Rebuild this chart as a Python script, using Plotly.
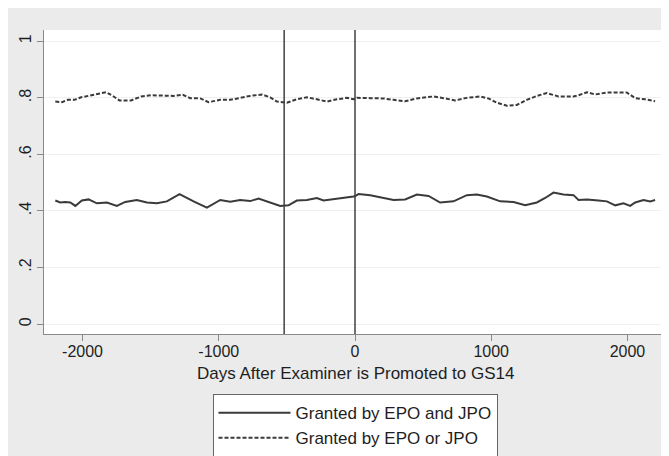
import plotly.graph_objects as go

# ---- data ----
days_and = [-2200, -2164, -2127, -2090, -2053, -2005, -1956, -1895, -1821, -1748,
            -1687, -1601, -1528, -1454, -1381, -1288, -1185, -1087, -989, -916,
            -843, -769, -708, -622, -549, -488, -427, -353, -280, -231,
            -158, -84, -11, 1, 26, 112, 185, 283, 368, 454,
            540, 625, 723, 821, 894, 968, 1066, 1164, 1249, 1335,
            1396, 1457, 1530, 1604, 1641, 1702, 1787, 1849, 1910, 1971,
            2020, 2057, 2118, 2167, 2203]
share_and = [0.437, 0.430, 0.432, 0.430, 0.418, 0.437, 0.441, 0.427, 0.430, 0.418,
             0.432, 0.439, 0.430, 0.427, 0.434, 0.460, 0.434, 0.412, 0.439, 0.433,
             0.439, 0.435, 0.444, 0.430, 0.418, 0.420, 0.437, 0.439, 0.446, 0.437,
             0.441, 0.445, 0.451, 0.453, 0.460, 0.456, 0.448, 0.439, 0.441, 0.458,
             0.453, 0.430, 0.434, 0.456, 0.458, 0.451, 0.434, 0.432, 0.420, 0.430,
             0.446, 0.465, 0.458, 0.456, 0.439, 0.441, 0.437, 0.434, 0.420, 0.427,
             0.418, 0.430, 0.439, 0.434, 0.439]

days_or = [-2200, -2151, -2108, -2059, -2010, -1937, -1863, -1827, -1778, -1729,
           -1644, -1570, -1497, -1399, -1332, -1264, -1210, -1136, -1075, -989,
           -916, -843, -769, -684, -622, -573, -500, -427, -353, -280,
           -206, -133, -60, -11, 14, 112, 209, 283, 368, 454,
           576, 650, 735, 821, 919, 980, 1041, 1115, 1188, 1261,
           1335, 1408, 1494, 1604, 1641, 1702, 1763, 1849, 1934, 1995,
           2057, 2130, 2203]
share_or = [0.787, 0.785, 0.793, 0.793, 0.802, 0.809, 0.814, 0.820, 0.807, 0.791,
            0.791, 0.805, 0.809, 0.808, 0.807, 0.811, 0.799, 0.798, 0.785, 0.793,
            0.793, 0.800, 0.807, 0.812, 0.802, 0.787, 0.783, 0.795, 0.802, 0.795,
            0.787, 0.795, 0.800, 0.795, 0.800, 0.799, 0.798, 0.793, 0.788, 0.798,
            0.805, 0.799, 0.791, 0.800, 0.805, 0.798, 0.783, 0.772, 0.775, 0.793,
            0.807, 0.817, 0.805, 0.805, 0.809, 0.820, 0.812, 0.819, 0.819, 0.819,
            0.799, 0.795, 0.788]

event_lines = [-520, 0]
x_ticks = [-2000, -1000, 0, 1000, 2000]
y_ticks = [0, 0.2, 0.4, 0.6, 0.8, 1]
y_tick_text = ["0", ".2", ".4", ".6", ".8", "1"]
x_title = "Days After Examiner is Promoted to GS14"

FONT = "Liberation Sans, Arial, Helvetica, sans-serif"
LINE_COLOR = "#3a3a3a"
FS = 17
TICK_FS = 16

fig = go.Figure()
fig.add_trace(go.Scatter(x=days_and, y=share_and, mode="lines",
                         name="Granted by EPO and JPO", legendgroup="a",
                         line=dict(color=LINE_COLOR, width=2)))
fig.add_trace(go.Scatter(x=days_or, y=share_or, mode="lines",
                         name="Granted by EPO or JPO", legendgroup="b",
                         line=dict(color=LINE_COLOR, width=2, dash="4px,2px")))

shapes = []
for v in event_lines:
    shapes.append(dict(type="line", xref="x", yref="paper", x0=v, x1=v, y0=0, y1=1,
                       line=dict(color="#404040", width=1.5), layer="above"))

# the page body adds an 8px white margin, so the figure is sized to fill the rest
fig.update_layout(
    width=661, height=448,
    margin=dict(l=36, r=3, t=22, b=122, autoexpand=False),
    paper_bgcolor="#ebebeb",
    plot_bgcolor="white",
    font=dict(family=FONT, size=FS, color="#1e1e1e"),
    shapes=shapes,
    annotations=[dict(text=x_title, xref="paper", yref="paper", x=0.5, y=0,
                      xanchor="center", yanchor="middle", yshift=-39,
                      showarrow=False, font=dict(family=FONT, size=FS, color="#1e1e1e"))],
    showlegend=True,
    legend=dict(orientation="v", x=0.5, xanchor="center",
                yref="container", y=0.138, yanchor="top",
                bgcolor="white", bordercolor="#666666", borderwidth=1,
                font=dict(family=FONT, size=FS, color="#1e1e1e"),
                itemwidth=72, tracegroupgap=0, traceorder="grouped"),
    xaxis=dict(range=[-2283, 2283], tickvals=x_ticks,
               ticktext=[str(t) for t in x_ticks],
               showgrid=False, zeroline=False, automargin=False,
               showline=True, linecolor="#8a8a8a", linewidth=1,
               ticks="outside", ticklen=6, tickcolor="#8a8a8a",
               tickfont=dict(size=TICK_FS), ticklabelstandoff=-3),
    yaxis=dict(range=[-0.035, 1.04], tickvals=y_ticks, ticktext=y_tick_text,
               tickangle=-90, automargin=False, tickfont=dict(size=TICK_FS),
               showgrid=True, gridcolor="#efefef", gridwidth=1, zeroline=False,
               showline=True, linecolor="#8a8a8a", linewidth=1,
               ticks="outside", ticklen=6, tickcolor="#8a8a8a"),
)

fig.write_html("out.html")
